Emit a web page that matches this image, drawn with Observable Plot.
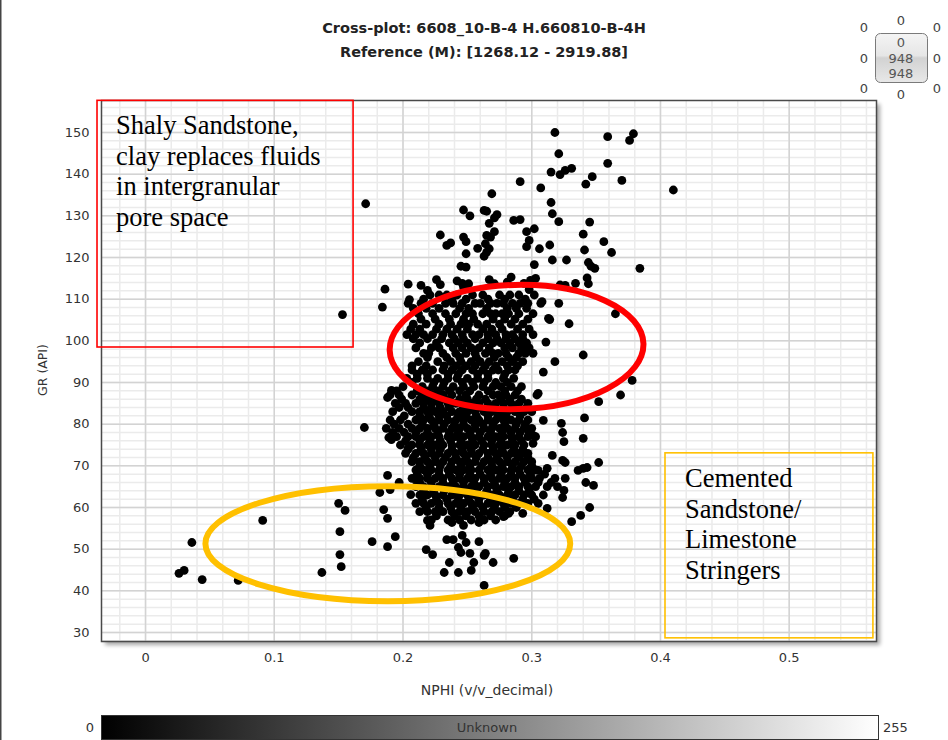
<!DOCTYPE html>
<html>
<head>
<meta charset="utf-8">
<script src="https://cdn.jsdelivr.net/npm/d3@7"></script>
<script src="https://cdn.jsdelivr.net/npm/@observablehq/plot@0.6"></script>
<style>
  body { margin: 0; background: #fff; }
  #chart { position: relative; width: 948px; height: 740px; overflow: hidden; }
  #chart svg { display: block; }
</style>
</head>
<body>
<div id="chart"></div>
<script>
// Axis ticks
const xTicks = [0, 0.1, 0.2, 0.3, 0.4, 0.5];
const yTicks = [30, 40, 50, 60, 70, 80, 90, 100, 110, 120, 130, 140, 150];

// Scattered samples [NPHI, GR] — high-GR tail
const upperPoints = [
  [0.318,150.0],[0.359,149.0],[0.379,149.7],[0.376,148.1],[0.321,144.9],[0.359,142.6],[0.315,140.5],
  [0.322,139.9],[0.326,140.9],[0.331,141.4],[0.347,139.4],[0.342,137.6],[0.370,138.5],[0.410,136.2],
  [0.291,138.2],[0.307,136.7],[0.171,132.9],[0.269,135.3],[0.315,133.2],[0.316,130.5],[0.321,128.6],
  [0.345,128.5],[0.247,131.4],[0.252,130.0],[0.263,131.3],[0.265,131.1],[0.273,130.3],[0.271,129.5],
  [0.267,128.2],[0.286,128.9],[0.291,129.1],[0.296,126.2],[0.302,126.9],[0.271,126.2],[0.265,125.3],
  [0.268,124.9],[0.229,125.4],[0.247,124.9],[0.249,123.8],[0.237,123.5],[0.234,122.9],[0.264,123.3],
  [0.267,122.1],[0.265,121.3],[0.263,120.3],[0.258,122.2],[0.249,120.9],[0.298,124.1],[0.296,122.6],
  [0.306,122.1],[0.314,123.0],[0.340,125.6],[0.356,123.8],[0.362,121.2],[0.341,121.8],[0.344,118.8],
  [0.346,117.9],[0.349,117.4],[0.316,119.4],[0.327,119.4],[0.384,117.4],[0.302,118.3],[0.245,117.9],
  [0.249,117.7],[0.186,112.4],[0.204,113.6],[0.214,113.3],[0.219,112.1],[0.226,114.7],[0.229,113.5],
  [0.242,114.4],[0.246,113.8],[0.251,113.7],[0.247,112.9],[0.267,114.7],[0.271,113.7],[0.284,115.3],
  [0.281,114.1],[0.294,113.8],[0.299,114.5],[0.303,115.0],[0.322,113.4],[0.326,113.3],[0.334,113.8],
  [0.343,115.1],[0.344,113.7],[0.298,112.3]
];

// Scattered samples around the shaly zone
const middlePoints = [
  [0.184,108.1],[0.153,106.3],[0.205,109.9],[0.313,105.4],[0.314,105.1],[0.329,104.1],[0.321,109.0],
  [0.365,106.5],[0.308,109.4],[0.311,99.7],[0.318,95.0],[0.340,96.6],[0.309,92.5],[0.305,87.4],
  [0.191,88.1],[0.188,86.4],[0.369,87.0],[0.378,90.5],[0.352,85.4]
];

// Scattered samples to the right of the main cloud
const rightPoints = [
  [0.341,81.5],[0.340,76.6],[0.325,75.8],[0.324,78.0],[0.323,80.2],[0.309,80.9],[0.301,77.3],
  [0.301,75.4],[0.289,72.5],[0.295,73.0],[0.316,72.5],[0.324,71.3],[0.326,70.8],[0.352,70.8],
  [0.340,69.4],[0.343,69.6],[0.336,68.9],[0.299,69.4],[0.305,68.9],[0.312,69.4],[0.348,65.3],
  [0.342,66.0],[0.324,62.4],[0.325,64.1],[0.312,59.8],[0.331,56.6],[0.338,58.1],[0.345,60.0],
  [0.293,58.6],[0.278,57.8],[0.282,58.6]
];

// Scattered samples at low GR
const lowerPoints = [
  [0.026,44.2],[0.030,44.9],[0.036,51.6],[0.044,42.7],[0.072,42.5],[0.091,56.9],[0.137,44.4],
  [0.150,61.0],[0.155,59.3],[0.151,54.2],[0.151,48.7],[0.152,45.8],[0.170,79.2],[0.176,51.8],
  [0.188,50.6],[0.194,53.0],[0.182,63.6],[0.190,64.3],[0.185,59.5],[0.188,57.4],[0.206,63.1],
  [0.189,76.8],[0.191,76.3],[0.204,74.2],[0.188,67.7],[0.197,66.0],[0.209,66.9],[0.218,49.9],
  [0.223,48.7],[0.234,52.3],[0.239,52.3],[0.246,53.3],[0.249,51.6],[0.243,50.4],[0.245,49.2],
  [0.236,46.8],[0.232,44.4],[0.243,44.4],[0.253,44.9],[0.255,46.8],[0.252,49.0],[0.263,48.5],
  [0.264,49.0],[0.270,46.8],[0.259,51.8],[0.263,41.3],[0.286,47.8],[0.247,55.7],[0.238,56.4],
  [0.259,56.4],[0.219,56.9],[0.221,55.7]
];

// Dense cloud, read row by row: [GR, NPHI values along that row]
const coreRows = [
  [111, [0.221,0.228,0.234,0.242,0.254,0.262,0.275,0.283,0.290,0.302]],
  [109, [0.204,0.214,0.223,0.233,0.239,0.246,0.256,0.260,0.268,0.273,0.278,0.285,0.291,0.297,0.307]],
  [106.5, [0.212,0.223,0.233,0.241,0.249,0.254,0.262,0.268,0.272,0.277,0.282,0.290,0.301]],
  [104, [0.208,0.218,0.228,0.237,0.245,0.251,0.258,0.265,0.275,0.284,0.293]],
  [101.5, [0.203,0.210,0.216,0.223,0.231,0.238,0.246,0.254,0.259,0.266,0.272,0.280,0.285,0.293,0.301]],
  [99.5, [0.213,0.226,0.236,0.243,0.250,0.262,0.270,0.276,0.283,0.290,0.296]],
  [97, [0.216,0.220,0.231,0.241,0.249,0.256,0.264,0.270,0.274,0.280,0.290,0.295,0.301]],
  [95, [0.212,0.227,0.237,0.245,0.253,0.260,0.267,0.277,0.285,0.293]],
  [93, [0.207,0.215,0.223,0.231,0.238,0.246,0.254,0.262,0.270,0.274,0.282,0.287]],
  [91, [0.203,0.211,0.219,0.227,0.235,0.242,0.250,0.258,0.266,0.278,0.286]],
  [89, [0.200,0.215,0.223,0.231,0.239,0.247,0.255,0.262,0.270,0.276,0.284,0.292]],
  [87, [0.190,0.197,0.207,0.215,0.223,0.231,0.238,0.249,0.259,0.270,0.274,0.280,0.287,0.304]],
  [85, [0.194,0.202,0.210,0.216,0.222,0.228,0.235,0.241,0.247,0.253,0.259,0.266,0.272,0.278,0.284,0.290,0.297]],
  [83, [0.192,0.207,0.213,0.219,0.225,0.231,0.238,0.244,0.250,0.256,0.263,0.269,0.275,0.281,0.287,0.294,0.300]],
  [81, [0.190,0.198,0.210,0.216,0.222,0.228,0.235,0.241,0.247,0.253,0.259,0.266,0.272,0.278,0.284,0.290,0.297]],
  [79, [0.187,0.197,0.207,0.213,0.219,0.225,0.231,0.238,0.244,0.250,0.256,0.263,0.269,0.275,0.281,0.287,0.294,0.300]],
  [77, [0.195,0.204,0.210,0.216,0.222,0.228,0.235,0.241,0.247,0.253,0.259,0.266,0.272,0.278,0.284,0.290,0.297,0.303]],
  [75, [0.198,0.207,0.213,0.219,0.225,0.231,0.238,0.244,0.250,0.256,0.263,0.269,0.275,0.281,0.287,0.294]],
  [73, [0.202,0.210,0.216,0.222,0.228,0.235,0.241,0.247,0.253,0.259,0.266,0.272,0.278,0.284,0.290,0.297]],
  [71, [0.207,0.213,0.219,0.225,0.231,0.238,0.244,0.250,0.256,0.263,0.269,0.275,0.281,0.287,0.294,0.300]],
  [69, [0.210,0.216,0.222,0.228,0.235,0.241,0.247,0.253,0.259,0.266,0.272,0.278,0.284,0.290,0.297,0.303]],
  [67, [0.207,0.213,0.219,0.225,0.231,0.238,0.244,0.250,0.256,0.263,0.269,0.275,0.281,0.287,0.294,0.300,0.306,0.318,0.326]],
  [65, [0.210,0.216,0.222,0.228,0.235,0.241,0.247,0.253,0.259,0.266,0.272,0.278,0.284,0.290,0.297,0.303,0.312,0.320]],
  [63, [0.213,0.219,0.225,0.231,0.238,0.244,0.250,0.256,0.263,0.269,0.275,0.281,0.287,0.294,0.300,0.309]],
  [61, [0.210,0.216,0.222,0.228,0.235,0.241,0.247,0.253,0.259,0.266,0.272,0.278,0.284,0.290,0.297,0.305]],
  [59, [0.213,0.219,0.225,0.231,0.238,0.244,0.250,0.256,0.263,0.269,0.275,0.283]],
  [57, [0.222,0.235,0.244,0.253,0.263,0.272]]
];

// In-between rows where the cloud is densest
const fillRows = [
  [110, [0.216,0.238,0.249,0.266,0.279,0.295]],
  [107.8, [0.208,0.218,0.228,0.244,0.251,0.265,0.281,0.288,0.296]],
  [105.2, [0.214,0.225,0.236,0.247,0.255,0.270,0.279,0.287,0.297]],
  [102.8, [0.206,0.213,0.226,0.234,0.242,0.250,0.262,0.269,0.277,0.289,0.298]],
  [100.5, [0.208,0.219,0.230,0.240,0.247,0.256,0.266,0.273,0.280,0.287,0.293]],
  [98.3, [0.210,0.222,0.228,0.239,0.246,0.253,0.259,0.267,0.279,0.285,0.292,0.298]],
  [96, [0.219,0.234,0.244,0.257,0.271,0.282,0.288]],
  [94, [0.207,0.218,0.232,0.241,0.249,0.256,0.264,0.272,0.281,0.289]],
  [92, [0.211,0.219,0.235,0.243,0.258,0.266,0.279]],
  [90, [0.207,0.224,0.232,0.246,0.254,0.263,0.272,0.281]],
  [88, [0.195,0.211,0.219,0.227,0.236,0.244,0.252,0.266,0.279,0.289]],
  [86, [0.199,0.213,0.219,0.226,0.233,0.244,0.250,0.257,0.264,0.276,0.283,0.292]],
  [84, [0.197,0.204,0.216,0.222,0.229,0.236,0.247,0.253,0.260,0.271,0.278,0.286,0.296]],
  [82, [0.201,0.213,0.220,0.228,0.234,0.243,0.249,0.257,0.266,0.274,0.280,0.291]],
  [80, [0.193,0.204,0.215,0.224,0.232,0.240,0.247,0.256,0.262,0.270,0.279,0.288,0.295]],
  [78, [0.192,0.201,0.210,0.219,0.227,0.236,0.243,0.252,0.260,0.268,0.277,0.284,0.291,0.298]],
  [76, [0.202,0.213,0.221,0.229,0.237,0.245,0.254,0.261,0.269,0.276,0.285,0.292]],
  [74, [0.204,0.214,0.222,0.229,0.238,0.246,0.253,0.262,0.270,0.277,0.286,0.293]],
  [72, [0.208,0.217,0.225,0.233,0.241,0.249,0.257,0.266,0.273,0.281,0.290,0.297]],
  [70, [0.213,0.221,0.229,0.237,0.245,0.252,0.261,0.269,0.277,0.285,0.292,0.300]],
  [68, [0.211,0.219,0.228,0.236,0.244,0.252,0.260,0.268,0.276,0.284,0.291,0.299,0.310]],
  [66, [0.213,0.222,0.231,0.239,0.247,0.255,0.263,0.271,0.279,0.287,0.295,0.305,0.315]],
  [64, [0.216,0.224,0.232,0.241,0.249,0.257,0.265,0.273,0.282,0.290,0.298]],
  [62, [0.215,0.226,0.234,0.243,0.251,0.259,0.268,0.276,0.285,0.293,0.302]],
  [60, [0.218,0.228,0.237,0.245,0.254,0.262,0.271,0.279,0.288]],
  [58, [0.226,0.240,0.249,0.259,0.268,0.279]]
];

// Interpretation overlays, in NPHI / GR units
const boxes = [
  {x1: -0.0373, x2: 0.1616, y1: 157.6, y2: 98.4, color: "#ff0000"},
  {x1: 0.4039, x2: 0.5654, y1: 73.0, y2: 28.6, color: "#ffc000"}
];
const ellipses = [
  {cx: 0.2886, cy: 98.4, rx: 0.0986, ry: 14.9, angle: -1.5, color: "#ff0000"},
  {cx: 0.1886, cy: 51.2, rx: 0.1417, ry: 13.8, angle: 0, color: "#ffc000"}
];
const notes = [
  {x: -0.0225, y: 149.5, lines: ["Shaly Sandstone,", "clay replaces fluids", "in intergranular", "pore space"]},
  {x: 0.4194, y: 64.8, lines: ["Cemented", "Sandstone/", "Limestone", "Stringers"]}
];

const points = [
  ...upperPoints, ...middlePoints, ...rightPoints, ...lowerPoints,
  ...coreRows.flatMap(([gr, xs]) => xs.map(x => [x, gr])),
  ...fillRows.flatMap(([gr, xs]) => xs.map(x => [x, gr]))
].map(([nphi, gr]) => ({nphi, gr}));

const xMinor = d3.range(-1, 29).map(i => i * 0.02);
const yMinor = d3.range(14, 79).map(i => i * 2);

const chart = Plot.plot({
  width: 948,
  height: 740,
  marginTop: 100,
  marginRight: 72,
  marginBottom: 99,
  marginLeft: 101,
  style: {fontFamily: "'DejaVu Sans', Verdana, sans-serif", fontSize: "13px", color: "#333", background: "transparent", overflow: "visible"},
  x: {domain: [-0.0342, 0.5678], ticks: xTicks, tickFormat: d => d === 0 ? "0" : String(d), tickSize: 0, tickPadding: 11, label: null},
  y: {domain: [27.84, 157.68], ticks: yTicks, tickSize: 0, tickPadding: 12, label: null},
  marks: [
    Plot.frame({fill: "white"}),
    Plot.ruleX(xMinor, {stroke: "#ebebeb", strokeWidth: 1.5}),
    Plot.ruleY(yMinor, {stroke: "#ebebeb", strokeWidth: 1.5}),
    Plot.ruleX(xTicks, {stroke: "#d3d3d3", strokeWidth: 1.5}),
    Plot.ruleY(yTicks, {stroke: "#d3d3d3", strokeWidth: 1.5}),
    Plot.dot(points, {x: "nphi", y: "gr", r: 4.4, fill: "black", stroke: "none"}),
    Plot.frame({stroke: "#4a4a4a", strokeWidth: 1.5}),
    ...boxes.map(b => Plot.rect([b], {x1: "x1", x2: "x2", y1: "y1", y2: "y2", fill: "none", stroke: b.color, strokeWidth: 1.6}))
  ]
});

document.getElementById("chart").appendChild(chart);

const svg = d3.select(chart);
const sx = chart.scale("x"), sy = chart.scale("y");
const X = v => sx.apply(v), Y = v => sy.apply(v);
const font = "'DejaVu Sans', Verdana, sans-serif";

// Soft drop shadow under the plotting frame
const defs = svg.append("defs");
defs.append("filter").attr("id", "shadowBlur").attr("x", "-5%").attr("y", "-5%").attr("width", "110%").attr("height", "110%")
  .append("feGaussianBlur").attr("stdDeviation", 2);
const fx0 = X(sx.domain[0]), fx1 = X(sx.domain[1]);
const fy0 = Y(sy.domain[1]), fy1 = Y(sy.domain[0]);
svg.insert("rect", ":first-child")
  .attr("x", fx0 + 4).attr("y", fy0 + 4).attr("width", fx1 - fx0).attr("height", fy1 - fy0)
  .attr("fill", "#000").attr("opacity", 0.35).attr("filter", "url(#shadowBlur)");

// Ellipse overlays
for (const e of ellipses) {
  const cx = X(e.cx), cy = Y(e.cy);
  svg.append("ellipse")
    .attr("cx", cx).attr("cy", cy)
    .attr("rx", Math.abs(X(e.cx + e.rx) - cx)).attr("ry", Math.abs(Y(e.cy + e.ry) - cy))
    .attr("transform", `rotate(${e.angle} ${cx} ${cy})`)
    .attr("fill", "none").attr("stroke", e.color).attr("stroke-width", 6);
}

// Annotation text
for (const n of notes) {
  const t = svg.append("text")
    .attr("x", X(n.x)).attr("y", Y(n.y))
    .attr("text-anchor", "start")
    .attr("font-family", "'Liberation Serif', 'Times New Roman', serif")
    .attr("font-size", 26.5).attr("fill", "#000");
  n.lines.forEach((line, i) => t.append("tspan").attr("x", X(n.x)).attr("dy", i ? 30.7 : 0).text(line));
}

// Titles
const addText = (x, y, s, opts = {}) => svg.append("text")
  .attr("x", x).attr("y", y)
  .attr("text-anchor", opts.anchor || "middle")
  .attr("font-family", font)
  .attr("font-weight", opts.weight || "normal")
  .attr("font-size", opts.size || 13)
  .attr("fill", opts.fill || "#333")
  .text(s);

addText(484, 32.5, "Cross-plot: 6608_10-B-4 H.660810-B-4H", {weight: "bold", size: 14.5, fill: "#222"});
addText(484, 56.5, "Reference (M): [1268.12 - 2919.88]", {weight: "bold", size: 14.5, fill: "#222"});

// Axis titles
addText(487, 695, "NPHI (v/v_decimal)", {size: 14});
svg.append("text").attr("transform", "translate(47,370) rotate(-90)").attr("text-anchor", "middle")
  .attr("font-family", font).attr("font-size", 12.5).attr("fill", "#333").text("GR (API)");

// Grey-level colour bar
const grad = defs.append("linearGradient").attr("id", "greyRamp");
grad.append("stop").attr("offset", "0%").attr("stop-color", "#000");
grad.append("stop").attr("offset", "100%").attr("stop-color", "#fff");
svg.append("rect").attr("x", 101.5).attr("y", 715.5).attr("width", 777).attr("height", 24)
  .attr("fill", "url(#greyRamp)").attr("stroke", "#333").attr("stroke-width", 1);
addText(487, 732, "Unknown");
addText(90, 732, "0");
addText(883, 732, "255", {anchor: "start"});

// Margin / size control widget
const wg = defs.append("linearGradient").attr("id", "knob").attr("x1", 0).attr("y1", 0).attr("x2", 0).attr("y2", 1);
wg.append("stop").attr("offset", "0%").attr("stop-color", "#f4f4f4");
wg.append("stop").attr("offset", "45%").attr("stop-color", "#e6e6e6");
wg.append("stop").attr("offset", "50%").attr("stop-color", "#d2d2d2");
wg.append("stop").attr("offset", "100%").attr("stop-color", "#e8e8e8");
svg.append("rect").attr("x", 875.5).attr("y", 33.5).attr("width", 52).attr("height", 49).attr("rx", 5)
  .attr("fill", "url(#knob)").attr("stroke", "#7a7a7a").attr("stroke-width", 1);
const widgetLabels = [
  [864, 32, "0"], [901, 25, "0"], [937, 32, "0"],
  [864, 63, "0"], [937, 63, "0"],
  [864, 93, "0"], [901, 99, "0"], [937, 93, "0"]
];
for (const [x, y, s] of widgetLabels) addText(x, y, s, {fill: "#444"});
[[901, 47, "0"], [901, 63, "948"], [901, 78, "948"]].forEach(([x, y, s]) => addText(x, y, s, {fill: "#555"}));

// Page edge rule
svg.append("line").attr("x1", 0.75).attr("x2", 0.75).attr("y1", 0).attr("y2", 740)
  .attr("stroke", "#444").attr("stroke-width", 1.5);
</script>
</body>
</html>
